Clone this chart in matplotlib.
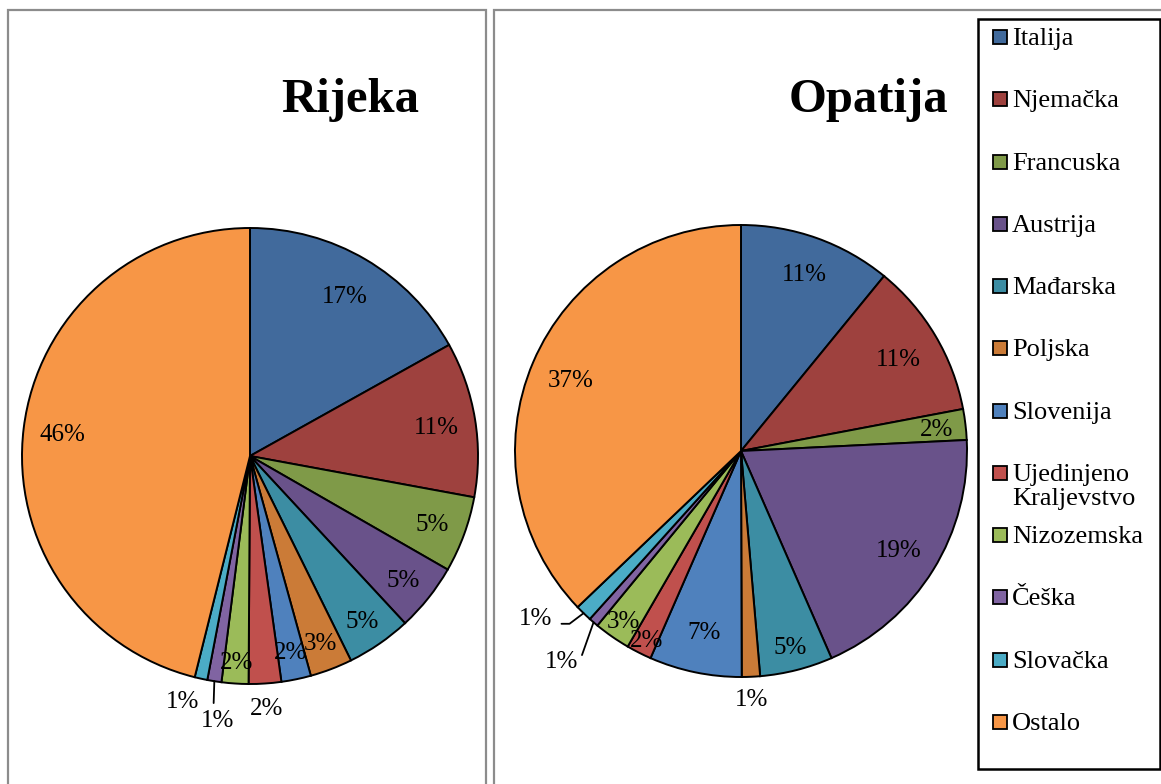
import numpy as np
import matplotlib.pyplot as plt
from matplotlib.patches import Rectangle

plt.rcParams['font.family'] = ['Liberation Serif', 'DejaVu Serif']

W, H = 1161, 784

drzave = ['Italija', 'Njemačka', 'Francuska', 'Austrija', 'Mađarska', 'Poljska',
          'Slovenija', 'Ujedinjeno\nKraljevstvo', 'Nizozemska', 'Češka',
          'Slovačka', 'Ostalo']
boje = ['#416A9C', '#9E413E', '#7F9A48', '#69528A', '#3C8DA3', '#CB7B37',
        '#4F81BD', '#C0504D', '#9BBB59', '#8064A2', '#4BACC6', '#F79646']

# udjeli (%) procitani sa slike
rijeka = [16.9, 11.0, 5.4, 4.8, 4.6, 3.0, 2.1, 2.3, 1.9, 1.0, 0.9, 46.1]
opatija = [10.9, 11.1, 2.2, 19.2, 5.2, 1.3, 6.6, 1.8, 2.6, 0.7, 1.2, 37.1]

# polozaj oznaka: udaljenost od sredista (u radijusima) i pomak kuta (stupnjevi, u smjeru kazaljke)
rijeka_r = [0.82, 0.83, 0.85, 0.86, 0.87, 0.87, 0.87, 1.10, 0.90, 1.16, 1.11, 0.83]
rijeka_kut = {9: -2, 10: 3}
opatija_r = [0.84, 0.81, 0.87, 0.82, 0.89, 1.09, 0.81, 0.93, 0.91, 1.22, 1.17, 0.82]
opatija_kut = {10: 7}

L = 1.35


def pita(fig, cx, cy, R, udjeli, radijusi, kutevi, linije):
    ax = fig.add_axes([(cx - L * R) / W, (H - cy - L * R) / H, 2 * L * R / W, 2 * L * R / H])
    klinovi, _ = ax.pie(udjeli, colors=boje, startangle=90, counterclock=False,
                        wedgeprops=dict(edgecolor='black', linewidth=1.4))
    ax.set_xlim(-L, L)
    ax.set_ylim(-L, L)
    ax.axis('off')
    for i, k in enumerate(klinovi):
        sred = (k.theta1 + k.theta2) / 2
        t = np.radians(sred - kutevi.get(i, 0))
        txt = '%d%%' % int(round(udjeli[i]))
        pos = (radijusi[i] * np.cos(t), radijusi[i] * np.sin(t))
        if i in linije:
            rel, stil, sA = linije[i]
            rub = (np.cos(np.radians(sred)), np.sin(np.radians(sred)))
            ax.annotate(txt, xy=rub, xytext=pos, ha='center', va='center_baseline',
                        fontsize=18,
                        arrowprops=dict(arrowstyle='-', color='black', lw=1.3,
                                        relpos=rel, connectionstyle=stil,
                                        shrinkA=sA, shrinkB=0))
        else:
            ax.text(pos[0], pos[1], txt, ha='center', va='center_baseline', fontsize=18)
    return ax


fig = plt.figure(figsize=(W / 100, H / 100), dpi=100)

# okviri
siva = '#8C8C8C'
fig.patches.append(Rectangle((8 / W, -0.05), (486 - 8) / W, (H - 10) / H + 0.05,
                             transform=fig.transFigure, fill=False, edgecolor=siva, lw=1.6))
fig.patches.append(Rectangle((494 / W, -0.05), 0.6, (H - 10) / H + 0.05,
                             transform=fig.transFigure, fill=False, edgecolor=siva, lw=1.6))

pita(fig, 250, 456, 228, rijeka, rijeka_r, rijeka_kut,
     {9: ((0.37, 1.0), 'arc3', 3)})
pita(fig, 741, 451, 226, opatija, opatija_r, opatija_kut,
     {9: ((1.0, 0.3), 'arc3', 3), 10: ((1.0, 0.3), 'angle,angleA=0,angleB=37', 5)})

fig.text(350 / W, 1 - 112 / H, 'Rijeka', fontsize=35, fontweight='bold',
         ha='center', va='baseline')
fig.text(868 / W, 1 - 112 / H, 'Opatija', fontsize=35, fontweight='bold',
         ha='center', va='baseline')

# legenda
fig.patches.append(Rectangle((978 / W, 1 - 769 / H), (1160 - 978) / W, (769 - 19) / H,
                             transform=fig.transFigure, fill=False, edgecolor='black',
                             lw=1.8, zorder=5))
korak = (722 - 37) / 11
for i, (ime, boja) in enumerate(zip(drzave, boje)):
    y = 37 + korak * i
    fig.patches.append(Rectangle((993 / W, 1 - (y + 7) / H), 14 / W, 14 / H,
                                 transform=fig.transFigure, facecolor=boja,
                                 edgecolor='black', lw=1.3, zorder=5))
    fig.text(1012 / W, 1 - (y - 9) / H, ime, fontsize=19, ha='left', va='top',
             linespacing=1.1)

fig.savefig('out.png', dpi=100)
